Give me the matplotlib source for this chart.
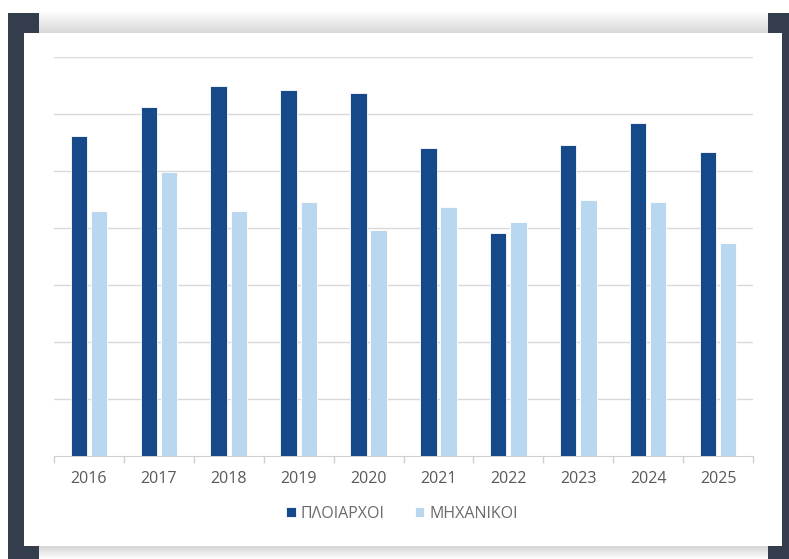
import numpy as np
import matplotlib.pyplot as plt
from matplotlib.patches import Rectangle

years = ['2016', '2017', '2018', '2019', '2020', '2021', '2022', '2023', '2024', '2025']
ploiarxoi = [281, 306, 325, 321, 318, 270, 196, 273, 292, 267]
mixanikoi = [215, 249, 215, 223, 198, 218, 205, 225, 223, 187]
series_names = ['ΠΛΟΙΑΡΧΟΙ', 'ΜΗΧΑΝΙΚΟΙ']
colors = ['#164989', '#bad7f0']

W, H = 789, 559
fig = plt.figure(figsize=(W / 100, H / 100), dpi=100)
fig.patch.set_facecolor('white')

# background frame drawn in pixel coordinates
bg = fig.add_axes([0, 0, 1, 1], zorder=-1)
bg.axis('off')
bg.add_patch(Rectangle((8, 13), 31, H - 13, color='#333d4b', lw=0))
bg.add_patch(Rectangle((768, 13), W - 768, H - 13, color='#333d4b', lw=0))
top_grad = np.linspace(0.98, 0.85, 20).reshape(-1, 1)
bg.imshow(np.repeat(top_grad[:, :, None], 3, axis=2), extent=(39, 768, 33, 13),
          aspect='auto', interpolation='bilinear')
bot_grad = np.linspace(0.84, 0.99, 13).reshape(-1, 1)
bg.imshow(np.repeat(bot_grad[:, :, None], 3, axis=2), extent=(39, 768, 559, 546),
          aspect='auto', interpolation='bilinear')
bg.add_patch(Rectangle((24, 33), 758, 513, color='white', lw=0))
bg.set_xlim(0, W)
bg.set_ylim(H, 0)

ax = fig.add_axes([54 / W, 1 - 456 / H, 699 / W, 399 / H])
ax.patch.set_alpha(0)
x = np.arange(len(years))
bw = 0.235
ax.bar(x - 0.145, ploiarxoi, bw, color=colors[0], edgecolor='white', linewidth=0.6,
       label=series_names[0], zorder=3)
ax.bar(x + 0.145, mixanikoi, bw, color=colors[1], edgecolor='white', linewidth=0.6,
       label=series_names[1], zorder=3)

ax.set_xlim(-0.5, len(years) - 0.5)
ax.set_ylim(0, 350)
ax.set_yticks(np.arange(50, 351, 50))
ax.yaxis.grid(True, color='#d9d9d9', linewidth=1)
ax.tick_params(axis='y', length=0, labelleft=False)
for s in ['top', 'right', 'left']:
    ax.spines[s].set_visible(False)
ax.spines['bottom'].set_color('#d0d0d0')
ax.set_xticks(x)
ax.set_xticklabels(years, fontsize=11.5, color='#595959', family='Open Sans')
ax.set_xticks(np.arange(-0.5, len(years), 1), minor=True)
ax.tick_params(axis='x', which='major', length=0, pad=11)
ax.tick_params(axis='x', which='minor', length=5, color='#d0d0d0', width=1)

leg = fig.legend(loc='center', bbox_to_anchor=(402 / W, 1 - 514 / H), ncol=2, frameon=False,
                 handlelength=0.6, handleheight=0.6, columnspacing=1.9, handletextpad=0.3,
                 prop={'family': 'Open Sans', 'size': 11.5})
for t in leg.get_texts():
    t.set_color('#6b6b6b')

fig.savefig('out.png', dpi=100)
